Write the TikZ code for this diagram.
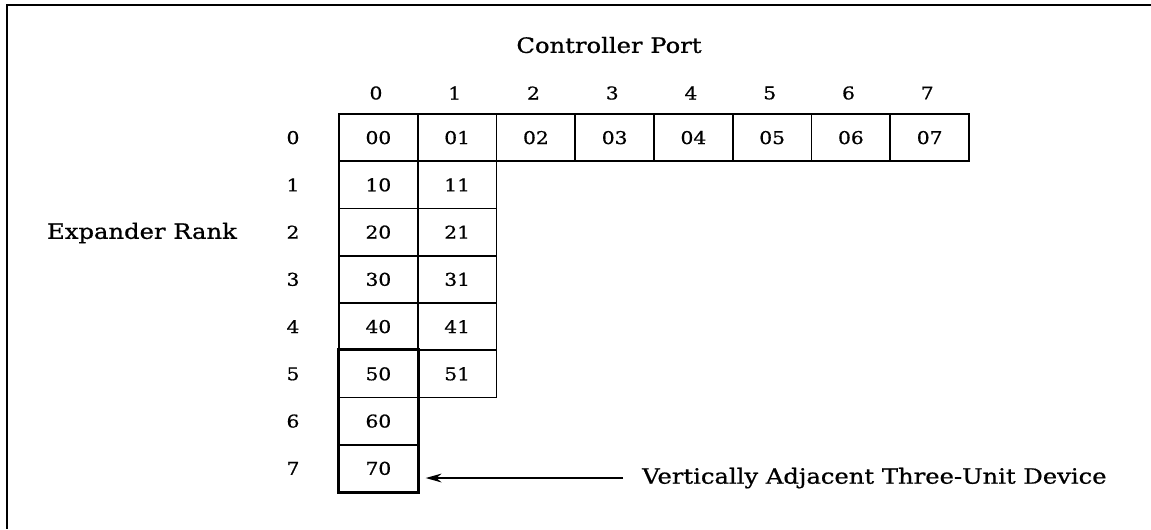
\documentclass[tikz,border=0pt]{standalone}
\usepackage{fontspec}
\setmainfont{DejaVu Serif}[FakeStretch=1.15,FakeBold=0.8]
\usetikzlibrary{arrows.meta}
\begin{document}
\begin{tikzpicture}[x=0.02cm,y=-0.02cm]
	\tikzset{cell/.style={draw, line width=1pt, minimum width=1.575cm, minimum height=0.945cm, inner sep=0pt, font=\fontsize{10}{12}\selectfont}}
	\tikzset{lbl/.style={font=\fontsize{10}{12}\selectfont}}
	\tikzset{caption/.style={font=\fontsize{12}{14}\selectfont}}
	\useasboundingbox (0,0) rectangle (1151,529);
	\draw[line width=0.9pt] (1151,5) -- (7,5) -- (7,529);
	\node[caption] (port) at (609,45) {Controller Port};
	\node[caption] (rank) at (142,233) {Expander Rank};
	\foreach \c in {0,...,7} {
		\node[lbl] (p\c) at (339+78.75*\c+37,93) {\c};
		\node[cell] (c0\c) at (339+78.75*\c+39.4,137.6) {0\c};
	}
	\foreach \r in {0,...,7}
		\node[lbl] (r\r) at (293,137.6+47.25*\r) {\r};
	\foreach \r in {1,...,5}
		\foreach \c in {0,1}
			\node[cell] (c\r\c) at (339+78.75*\c+39.4,137.6+47.25*\r) {\r\c};
	\foreach \r in {6,7}
		\node[cell] (c\r0) at (378.4,137.6+47.25*\r) {\r0};
	\draw[line width=1.8pt] (c50.north west) rectangle (c70.south east);
	\node[caption, anchor=west] (device) at (636,478) {Vertically Adjacent Three-Unit Device};
	\draw[line width=1.3pt, -{Stealth[length=9pt,width=5pt]}, shorten >=4pt] (device.west) ++(-13,0) -- (c70.east |- device.west);
\end{tikzpicture}
\end{document}
